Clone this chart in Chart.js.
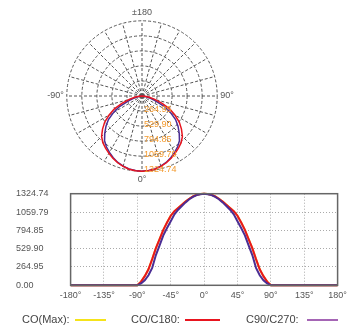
<!DOCTYPE html>
<html>
<head>
<meta charset="utf-8">
<script src="https://cdn.jsdelivr.net/npm/chart.js@4.4.1/dist/chart.umd.min.js"></script>
<style>
  body { margin: 0; background: #fff; font-family: "Liberation Sans", Arial, sans-serif; }
  #wrap { position: relative; width: 352px; height: 328px; overflow: hidden; }
  .box { position: absolute; }
  #polarBox { left: 0; top: 0; width: 284px; height: 194px; }
  #lineBox { left: 0; top: 185px; width: 352px; height: 120px; }
  .lg { position: absolute; top: 313px; font-size: 11px; color: #444; line-height: 13px; white-space: nowrap; }
  .sw { position: absolute; top: 319px; height: 2px; }
</style>
</head>
<body>
<div id="wrap">
  <div class="box" id="polarBox"><canvas id="polar"></canvas></div>
  <div class="box" id="lineBox"><canvas id="curve"></canvas></div>
  <span class="lg" style="left:22px">CO(Max):</span>
  <span class="sw" style="left:75px;width:31px;background:#f5e31a"></span>
  <span class="lg" style="left:131px">CO/C180:</span>
  <span class="sw" style="left:185px;width:35px;background:#e8151f"></span>
  <span class="lg" style="left:246px">C90/C270:</span>
  <span class="sw" style="left:307px;width:31px;background:#a565b5"></span>
</div>
<script>
// gamma angles, 5 degree steps
const angles = [
  -180, -175, -170, -165, -160, -155, -150, -145, -140, -135, -130, -125, -120, -115, -110, -105, -100, -95,
  -90, -85, -80, -75, -70, -65, -60, -55, -50, -45, -40, -35, -30, -25, -20, -15, -10, -5,
  0, 5, 10, 15, 20, 25, 30, 35, 40, 45, 50, 55, 60, 65, 70, 75, 80, 85, 90,
  95, 100, 105, 110, 115, 120, 125, 130, 135, 140, 145, 150, 155, 160, 165, 170, 175, 180
];

// C0/C180 plane (cd)
const c0c180 = [
  0, 0, 0, 0, 0, 0, 0, 0, 0, 0, 0, 0, 0, 0, 0, 0, 0, 0,
  0, 53.0, 132.5, 231.8, 377.6, 536.5, 669.0, 801.5, 907.4, 1006.8, 1073.0, 1119.4, 1165.8, 1212.1, 1251.9, 1285.0, 1308.8, 1320.8,
  1324.7, 1320.8, 1308.8, 1285.0, 1251.9, 1212.1, 1165.8, 1119.4, 1073.0, 1006.8, 907.4, 801.5, 669.0, 536.5, 377.6, 231.8, 132.5, 53.0, 0,
  0, 0, 0, 0, 0, 0, 0, 0, 0, 0, 0, 0, 0, 0, 0, 0, 0, 0
];

// C90/C270 plane (cd)
const c90c270 = [
  0, 0, 0, 0, 0, 0, 0, 0, 0, 0, 0, 0, 0, 0, 0, 0, 0, 0,
  0, 26.5, 72.9, 145.7, 251.7, 437.2, 576.3, 722.0, 828.0, 927.3, 1026.7, 1092.9, 1145.9, 1198.9, 1245.3, 1278.4, 1304.9, 1318.1,
  1324.7, 1318.1, 1304.9, 1278.4, 1245.3, 1198.9, 1145.9, 1092.9, 1026.7, 927.3, 828.0, 722.0, 576.3, 437.2, 251.7, 145.7, 72.9, 26.5, 0,
  0, 0, 0, 0, 0, 0, 0, 0, 0, 0, 0, 0, 0, 0, 0, 0, 0, 0
];

// C0 max plane, same as C0/C180 here
const c0max = c0c180;

const maxValue = 1324.74;
const yTickLabels = ["0.00", "264.95", "529.90", "794.85", "1059.79", "1324.74"];
const dirLabels = { "180": "\u00b1180", "90": "90\u00b0", "0": "0\u00b0", "-90": "-90\u00b0" };

Chart.defaults.font.family = "'Liberation Sans', Arial, sans-serif";
Chart.defaults.color = "#555";

// polar diagram: index 0 at top (180), clockwise to 0 at bottom
const polarAngles = angles.slice(1).reverse();
const polarRed = c0c180.slice(1).reverse();
const polarBlue = c90c270.slice(1).reverse();
const bottomIndex = polarAngles.indexOf(0);

const ringLabels = {
  id: "ringLabels",
  afterDatasetsDraw(chart) {
    const s = chart.scales.r;
    const ctx = chart.ctx;
    ctx.save();
    ctx.fillStyle = "#f39a2e";
    ctx.font = "9px 'Liberation Sans', Arial, sans-serif";
    ctx.textAlign = "left";
    ctx.textBaseline = "middle";
    s.ticks.forEach((t, i) => {
      if (i === 0) return;
      const p = s.getPointPositionForValue(bottomIndex, t.value);
      ctx.fillText(yTickLabels[i], p.x + 2, p.y - 2);
    });
    ctx.restore();
  }
};

new Chart(document.getElementById("polar"), {
  type: "radar",
  data: {
    labels: polarAngles,
    datasets: [
      { data: polarRed, borderColor: "#e8151f", borderWidth: 1.5, pointRadius: 0, fill: false },
      { data: polarBlue, borderColor: "#4b2d94", borderWidth: 1.5, pointRadius: 0, fill: false }
    ]
  },
  options: {
    responsive: true,
    maintainAspectRatio: false,
    animation: false,
    layout: { padding: { top: 8, bottom: 8 } },
    plugins: { legend: { display: false }, tooltip: { enabled: false } },
    scales: {
      r: {
        min: 0,
        max: maxValue,
        ticks: { count: 6, display: false },
        grid: { circular: true, color: "#555", lineWidth: 1 },
        border: { dash: [3, 2] },
        angleLines: {
          color: (c) => (c.index % 3 === 0 ? "#555" : "rgba(0,0,0,0)"),
          lineWidth: (c) => (c.index % 3 === 0 ? 1 : 0),
          borderDash: [3, 2]
        },
        pointLabels: {
          padding: 3,
          font: { size: 9 },
          color: "#555",
          callback: (label) => dirLabels[String(label)] || ""
        }
      }
    }
  },
  plugins: [ringLabels]
});

// cartesian curve
const toPoints = (vals) => angles.map((a, i) => ({ x: a, y: vals[i] }));

const frame = {
  id: "frame",
  afterDraw(chart) {
    const a = chart.chartArea;
    const ctx = chart.ctx;
    ctx.save();
    ctx.strokeStyle = "#666";
    ctx.lineWidth = 1.5;
    ctx.strokeRect(a.left, a.top, a.right - a.left, a.bottom - a.top);
    ctx.restore();
  }
};

new Chart(document.getElementById("curve"), {
  type: "line",
  data: {
    datasets: [
      { label: "CO(Max)", data: toPoints(c0max), borderColor: "#f5e31a", order: 3 },
      { label: "CO/C180", data: toPoints(c0c180), borderColor: "#e8151f", order: 2 },
      { label: "C90/C270", data: toPoints(c90c270), borderColor: "#4b2d94", order: 1 }
    ]
  },
  options: {
    responsive: true,
    maintainAspectRatio: false,
    animation: false,
    clip: false,
    elements: { point: { radius: 0 }, line: { borderWidth: 2, tension: 0 } },
    layout: { padding: { top: 8.7, left: 16, right: 14.4, bottom: 0 } },
    plugins: { legend: { display: false }, tooltip: { enabled: false } },
    scales: {
      x: {
        type: "linear",
        min: -180,
        max: 180,
        afterFit: (s) => { s.height = 19.7; },
        ticks: { stepSize: 45, padding: 5, font: { size: 9 }, callback: (v) => v + "\u00b0" },
        grid: { color: "#aaa", drawTicks: false },
        border: { color: "#666", dash: [1, 2] }
      },
      y: {
        min: 0,
        max: maxValue,
        afterFit: (s) => { s.width = 54.6; },
        ticks: { count: 6, crossAlign: "far", font: { size: 9 }, callback: (v, i) => yTickLabels[i] },
        grid: { color: "#aaa", drawTicks: false },
        border: { color: "#666", dash: [1, 2] }
      }
    }
  },
  plugins: [frame]
});
</script>
</body>
</html>
